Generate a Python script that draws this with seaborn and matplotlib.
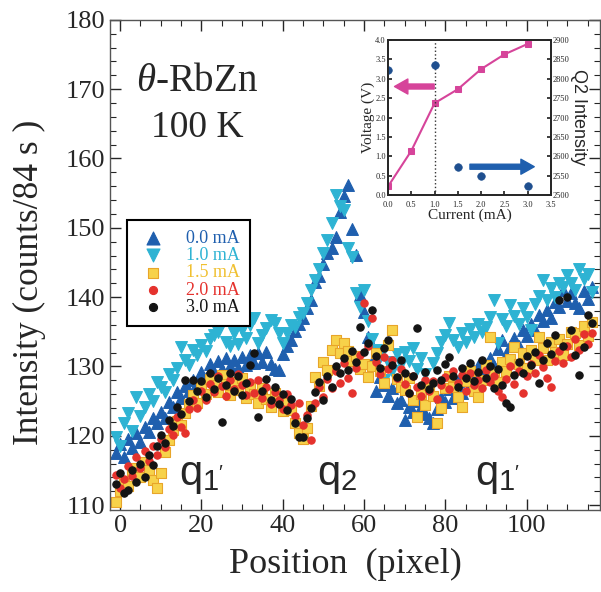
import numpy as np
import pandas as pd
import seaborn as sns
import matplotlib.pyplot as plt
from matplotlib.ticker import MultipleLocator

# positions (pixel) -1 .. 116
position = list(range(-1, 117))

i_00mA = [117.5, 118.8, 116.9, 119.6, 118.2, 120.4, 119.1, 121.3, 120.6, 122.5,
          121.8, 123.4, 122.6, 124.9, 124.1, 126.3, 125.5, 127.2, 126.4, 128.1,
          127.6, 129.2, 128.4, 130.3, 129.1, 130.8, 129.7, 131.2, 130.1, 130.9,
          129.8, 131.4, 130.2, 131.7, 130.5, 131.9, 130.6, 132.1, 130.4, 129.6,
          129.5, 131.8, 132.9, 133.8, 135.1, 136.2, 137.0, 138.4, 139.6, 142.2,
          143.0, 144.8, 146.4, 147.1, 148.7, 152.3, 154.6, 156.2, 149.8, 146.1,
          140.3, 137.9, 134.2, 130.6, 126.4, 128.5, 127.3, 125.8, 126.9, 124.7,
          125.2, 122.3, 124.1, 123.5, 125.0, 124.2, 123.1, 122.6, 121.9, 123.8,
          125.6, 124.9, 126.7, 125.4, 127.9, 126.2, 128.6, 127.4, 129.3, 130.0,
          128.4, 129.7, 131.2, 130.1, 132.5, 133.8, 131.6, 132.9, 134.1, 133.0,
          135.2, 134.4, 136.1, 135.3, 137.4, 136.5, 138.2, 137.0, 139.3, 138.6,
          141.0, 139.4, 140.6, 139.1, 138.4, 140.9, 139.8, 141.5]
i_10mA = [119.8, 118.6, 121.9, 123.3, 120.7, 125.6, 122.8, 124.2, 126.1, 125.0,
          127.8, 127.0, 126.3, 128.9, 128.1, 129.8, 132.8, 131.0, 130.2, 132.4,
          131.6, 133.1, 132.2, 134.0, 134.5, 135.0, 136.7, 133.6, 132.9, 134.8,
          133.3, 135.2, 134.1, 136.0, 137.0, 133.4, 134.6, 135.5, 136.7, 136.3,
          134.9, 133.4, 134.8, 136.0, 135.7, 137.1, 137.7, 139.2, 141.0, 142.5,
          144.0, 146.4, 148.3, 150.7, 154.7, 153.2, 152.6, 147.1, 145.8, 140.6,
          138.6, 141.0, 136.5, 134.0, 132.4, 131.4, 128.0, 130.6, 129.4, 131.8,
          130.3, 132.1, 130.8, 132.7, 129.6, 131.2, 128.9, 126.6, 130.5, 132.0,
          133.5, 134.6, 136.3, 133.8, 132.8, 134.9, 133.6, 135.4, 134.2, 136.1,
          135.0, 135.7, 137.2, 139.6, 133.4, 136.8, 135.9, 138.9, 137.3, 136.2,
          138.4, 137.1, 135.3, 139.0, 140.2, 142.5, 139.6, 141.3, 140.0, 142.1,
          141.4, 143.2, 142.0, 141.0, 144.0, 142.6, 143.3, 140.8]
i_15mA = [110.4, 112.1, 113.5, 112.8, 114.6, 115.3, 114.0, 116.2, 115.1, 113.6,
          112.5, 114.7, 117.7, 119.4, 120.8, 122.1, 121.5, 123.3, 124.6, 125.9,
          124.8, 127.0, 126.1, 128.2, 127.4, 126.3, 128.8, 127.5, 125.9, 127.8,
          126.6, 128.3, 125.4, 127.1, 126.0, 124.8, 126.9, 125.3, 124.1, 126.2,
          125.0, 123.6, 124.9, 123.7, 121.9, 120.4, 119.5, 121.2, 124.3, 128.5,
          127.2, 130.6, 129.5, 132.4, 133.8, 131.9, 133.4, 132.2, 130.8, 131.5,
          129.7, 130.4, 128.5, 130.1, 132.0, 129.4, 127.6, 133.1, 135.3, 128.2,
          127.0, 126.6, 128.4, 125.1, 122.7, 126.0, 124.5, 127.3, 125.8, 121.9,
          124.0, 126.9, 128.7, 127.1, 125.6, 124.2, 127.9, 129.3, 126.4, 125.6,
          128.1, 130.2, 134.2, 129.0, 127.8, 130.7, 129.4, 131.1, 132.8, 130.3,
          131.9, 129.8, 132.4, 131.0, 134.2, 132.6, 130.9, 133.5, 132.1, 134.0,
          131.7, 133.2, 135.0, 134.8, 133.1, 135.9, 134.4, 136.4]
i_20mA = [114.3, 112.5, 113.8, 115.6, 114.2, 116.9, 115.4, 117.8, 116.3, 118.5,
          117.2, 119.6, 118.4, 121.0, 120.1, 122.7, 121.3, 120.4, 123.9, 125.2,
          124.0, 126.4, 125.1, 127.5, 126.3, 128.6, 127.2, 125.8, 128.1, 126.7,
          128.9, 127.4, 125.9, 127.8, 126.2, 128.0, 125.4, 127.1, 124.6, 126.3,
          125.2, 123.8, 126.0, 124.4, 122.9, 124.7, 121.6, 123.0, 119.4, 124.8,
          127.1, 125.6, 128.2, 126.9, 129.3, 127.6, 130.5, 128.4, 126.2, 129.8,
          131.6, 139.2, 133.0, 137.0, 130.7, 128.9, 131.4, 129.6, 131.0, 128.3,
          129.7, 127.5, 126.2, 128.6, 127.1, 125.8, 128.0, 126.4, 127.9, 125.3,
          127.4, 128.5, 126.8, 129.4, 127.6, 128.8, 126.5, 129.0, 127.3, 128.1,
          126.9, 129.5, 127.8, 128.6, 126.4, 125.6, 128.2, 130.1, 127.5, 129.3,
          126.2, 128.7, 130.4, 129.1, 131.6, 129.9, 128.4, 127.0, 130.8, 132.2,
          130.5, 133.0, 131.3, 133.9, 132.4, 134.7, 133.3, 134.8]
i_30mA = [113.0, 114.6, 111.8, 112.2, 115.1, 113.4, 116.0, 114.0, 117.3, 115.8,
          118.6, 120.1, 119.0, 122.3, 121.4, 124.2, 123.1, 128.1, 125.0, 128.1,
          126.4, 127.9, 125.6, 129.0, 126.8, 128.4, 122.0, 127.3, 129.1, 126.5,
          128.7, 125.9, 127.6, 130.2, 132.0, 122.7, 126.4, 128.2, 125.1, 127.0,
          124.6, 126.1, 123.7, 125.3, 121.8, 119.8, 119.8, 122.5, 124.0, 126.3,
          127.8, 125.2, 128.6, 127.0, 130.1, 129.0, 131.2, 129.5, 132.3, 130.6,
          135.7, 132.1, 133.4, 138.2, 131.5, 129.8, 132.6, 133.8, 130.2, 128.5,
          131.0, 129.1, 126.2, 128.7, 135.6, 127.4, 129.2, 126.8, 127.6, 129.5,
          128.0, 130.3, 131.4, 128.6, 127.1, 129.8, 128.3, 130.5, 127.9, 129.2,
          131.0, 128.4, 130.0, 126.9, 129.6, 127.3, 124.7, 124.2, 128.8, 130.6,
          129.0, 131.5, 130.2, 132.1, 127.6, 131.0, 133.4, 131.8, 134.6, 139.6,
          133.0, 140.0, 135.2, 131.7, 128.8, 132.8, 137.4, 136.3]

# inset: voltage / Q2 intensity vs current
current_v = [0.0, 0.5, 1.0, 1.5, 2.0, 2.5, 3.0]
voltage = [0.22, 1.14, 2.37, 2.73, 3.25, 3.63, 3.9]
current_q = [0.0, 1.0, 1.5, 2.0, 3.0]
q2_intensity = [2822, 2835, 2573, 2549, 2523]

series = [
    ("0.0 mA", i_00mA, "^", 72, "#1f5fae", "#1f5fae", "#1f5fae"),
    ("1.0 mA", i_10mA, "v", 72, "#2eb3d3", "#2eb3d3", "#2eb3d3"),
    ("1.5 mA", i_15mA, "s", 48, "#f7d24a", "#e8a52a", "#f0c030"),
    ("2.0 mA", i_20mA, "o", 28, "#e5322d", "#e5322d", "#e5322d"),
    ("3.0 mA", i_30mA, "o", 28, "#141414", "#141414", "#141414"),
]

sns.set_theme(style="ticks")
plt.rcParams['font.family'] = ['Liberation Serif', 'DejaVu Serif']
plt.rcParams['mathtext.fontset'] = 'custom'
plt.rcParams['mathtext.rm'] = 'Liberation Serif'
plt.rcParams['mathtext.it'] = 'Liberation Serif:italic'

fig = plt.figure(figsize=(6.01, 5.92), dpi=100)
ax = fig.add_axes([0.183, 0.1385, 0.815, 0.828])

for label, vals, mk, sz, fc, ec, tc in series:
    df = pd.DataFrame({"Position": position, "Intensity": vals})
    sns.scatterplot(data=df, x="Position", y="Intensity", marker=mk, s=sz,
                    color=fc, edgecolor=ec, linewidth=0.8, ax=ax, label=label)

ax.set_xlim(-2.5, 118)
ax.set_ylim(109.3, 180)
ax.xaxis.set_major_locator(MultipleLocator(20))
ax.xaxis.set_minor_locator(MultipleLocator(5))
ax.yaxis.set_major_locator(MultipleLocator(10))
ax.yaxis.set_minor_locator(MultipleLocator(2))
ax.tick_params(which='both', direction='in', top=True, right=True, labelsize=19)
ax.tick_params(which='major', length=8, width=1)
ax.tick_params(which='minor', length=4, width=0.8)
for sp in ax.spines.values():
    sp.set_linewidth(1.0)
    sp.set_color('#555555')
ax.set_xlabel("Position  (pixel)", fontsize=26)
ax.set_ylabel("Intensity (counts/84 s )", fontsize=25.5)
ax.xaxis.set_label_coords(0.48, -0.078)
ax.yaxis.set_label_coords(-0.13, 0.465)

leg = ax.legend(loc='upper left', bbox_to_anchor=(0.035, 0.592), borderaxespad=0,
                fontsize=13, frameon=True, fancybox=False, edgecolor='black',
                framealpha=1, labelspacing=0.02, handletextpad=0.9, borderpad=0.55,
                handlelength=1.8, markerscale=1.1)
leg.get_frame().set_linewidth(1.5)
for txt, s in zip(leg.get_texts(), series):
    txt.set_color(s[6])

ax.text(18.9, 171.1, r"$\theta$-RbZn", fontsize=28, ha='center', va='center')
ax.text(18.9, 164.4, "100 K", fontsize=27, ha='center', va='center')
for xq, lab in [(20, r"q$_{\mathregular{1'}}$"), (53.5, r"q$_{\mathregular{2}}$"),
                (92.8, r"q$_{\mathregular{1'}}$")]:
    ax.text(xq, 114.2, lab, fontsize=30, family='Liberation Sans', ha='center', va='center')

# inset
axin = fig.add_axes([0.6456, 0.6706, 0.2712, 0.2618])
axin.set_facecolor('white')
sns.lineplot(x=current_v, y=voltage, color='#d6449a', marker='s', markersize=4,
             markeredgecolor='#d6449a', linewidth=1.5, ax=axin)
axin.axvline(1.0, color='#333333', linestyle=':', linewidth=1)
axin.set_xlim(0, 3.5)
axin.set_ylim(0, 4.0)
axin.set_xticks(np.arange(0, 3.6, 0.5))
axin.set_xticklabels([f"{v:.1f}" for v in np.arange(0, 3.6, 0.5)])
axin.yaxis.set_major_locator(MultipleLocator(0.5))
axin.tick_params(direction='in', labelsize=6, length=3, pad=1.5)
axin.tick_params(axis='x', pad=4)
axin.set_xlabel("Current (mA)", fontsize=11, labelpad=0)
axin.set_ylabel("Voltage (V)", fontsize=11, labelpad=0)
axin.annotate('', xy=(0.08, 2.8), xytext=(1.05, 2.8),
              arrowprops=dict(arrowstyle='simple,head_width=0.9,head_length=0.8,tail_width=0.3',
                              color='#d6449a'))

axq = axin.twinx()
sns.scatterplot(x=current_q, y=q2_intensity, color='#1f4f8f', s=30, edgecolor='#1f4f8f', ax=axq)
axq.set_ylim(2500, 2900)
axq.yaxis.set_major_locator(MultipleLocator(50))
axq.tick_params(direction='in', labelsize=6, length=3, pad=1.5)
axq.set_ylabel("Q2 Intensity", fontsize=13, family='Liberation Sans', rotation=270, labelpad=12)
axq.annotate('', xy=(3.2, 2573), xytext=(1.7, 2573),
             arrowprops=dict(arrowstyle='simple,head_width=0.9,head_length=0.8,tail_width=0.3',
                             color='#1f5fae'))

fig.savefig("out.png", dpi=100)
